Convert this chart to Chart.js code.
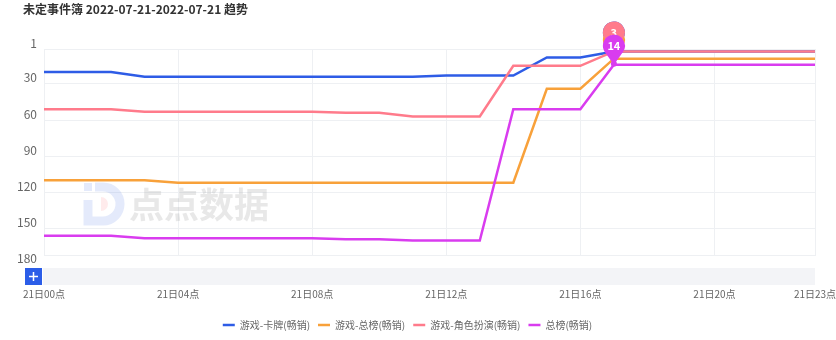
<!DOCTYPE html>
<html>
<head>
<meta charset="utf-8">
<script src="https://cdn.jsdelivr.net/npm/chart.js@4.4.1/dist/chart.umd.min.js"></script>
<style>
  html, body { margin: 0; padding: 0; background: #fff; }
  #wrap { width: 836px; height: 340px; position: relative; }
</style>
</head>
<body>
<div id="wrap"><canvas id="trendChart"></canvas></div>
<script>
// 小时 (21日 00点 - 23点)
const hours = [0, 1, 2, 3, 4, 5, 6, 7, 8, 9, 10, 11, 12, 13, 14, 15, 16, 17, 18, 19, 20, 21, 22, 23];
const xTickHours = [0, 4, 8, 12, 16, 20, 23];
const yTickValues = [1, 30, 60, 90, 120, 150, 180];

const seriesNames = ['游戏-卡牌(畅销)', '游戏-总榜(畅销)', '游戏-角色扮演(畅销)', '总榜(畅销)'];
const seriesColors = ['#2e5ce6', '#f8a13a', '#ff7b8b', '#d93cef'];

// 排名
const cardRank    = [20, 20, 20, 24, 24, 24, 24, 24, 24, 24, 24, 24, 23, 23, 23, 8, 8, 3, 3, 3, 3, 3, 3, 3];
const gameRank    = [110, 110, 110, 110, 112, 112, 112, 112, 112, 112, 112, 112, 112, 112, 112, 34, 34, 9, 9, 9, 9, 9, 9, 9];
const rpgRank     = [51, 51, 51, 53, 53, 53, 53, 53, 53, 54, 54, 57, 57, 57, 15, 15, 15, 3, 3, 3, 3, 3, 3, 3];
const overallRank = [156, 156, 156, 158, 158, 158, 158, 158, 158, 159, 159, 160, 160, 160, 51, 51, 51, 14, 14, 14, 14, 14, 14, 14];

const markIndex = 17;
const fontFamily = '"Noto Sans CJK SC", "Noto Sans", sans-serif';

function toPoints(arr) {
    return hours.map((h, i) => ({ x: h, y: arr[i] }));
}

// 标题
const titlePlugin = {
    id: 'titleText',
    afterDraw(chart) {
        const ctx = chart.ctx;
        ctx.save();
        ctx.font = 'bold 12px ' + fontFamily;
        ctx.fillStyle = '#333';
        ctx.textBaseline = 'middle';
        ctx.fillText('未定事件簿 2022-07-21-2022-07-21 趋势', 23, 9);
        ctx.restore();
    }
};

// 水印 + 底部缩放条 + 多余的y轴标签
const backdropPlugin = {
    id: 'backdrop',
    beforeDatasetsDraw(chart) {
        const ctx = chart.ctx;
        ctx.save();
        // logo
        ctx.lineWidth = 9;
        ctx.strokeStyle = 'rgba(120,150,235,0.2)';
        ctx.beginPath();
        ctx.moveTo(95, 187);
        ctx.lineTo(103, 187);
        ctx.arc(103, 204, 17, -Math.PI / 2, Math.PI / 2);
        ctx.lineTo(88, 221);
        ctx.lineTo(88, 200);
        ctx.stroke();
        ctx.fillStyle = 'rgba(255,120,130,0.15)';
        ctx.beginPath();
        ctx.arc(101, 204, 7, -Math.PI / 2, Math.PI / 2);
        ctx.fill();
        ctx.fillStyle = 'rgba(120,150,235,0.2)';
        ctx.fillRect(84, 183, 8, 8);
        // 文字
        ctx.font = 'bold 35px ' + fontFamily;
        ctx.fillStyle = 'rgba(170,170,170,0.27)';
        ctx.textBaseline = 'middle';
        ctx.fillText('点点数据', 129, 205);
        ctx.restore();
    },
    afterDraw(chart) {
        const ctx = chart.ctx;
        const area = chart.chartArea;
        const y = chart.scales.y;
        ctx.save();
        // 额外y轴标签
        ctx.font = '12px ' + fontFamily;
        ctx.fillStyle = '#666';
        ctx.textAlign = 'right';
        ctx.textBaseline = 'middle';
        yTickValues.filter(v => v > y.max).forEach(v => {
            ctx.fillText(String(v), area.left - 7, y.getPixelForValue(v) - 6);
        });
        // 缩放条
        ctx.fillStyle = '#f3f4f7';
        ctx.fillRect(area.left - 1, 268, area.right - area.left + 1, 17);
        ctx.fillStyle = '#2b5de8';
        ctx.fillRect(25, 268, 17, 17);
        ctx.strokeStyle = '#fff';
        ctx.lineWidth = 1.5;
        ctx.beginPath();
        ctx.moveTo(29, 276.5); ctx.lineTo(38, 276.5);
        ctx.moveTo(33.5, 272); ctx.lineTo(33.5, 281);
        ctx.stroke();
        ctx.restore();
    }
};

// 标记气泡
const pinPlugin = {
    id: 'pins',
    afterDatasetsDraw(chart) {
        const ctx = chart.ctx;
        chart.data.datasets.forEach((ds, i) => {
            const pt = chart.getDatasetMeta(i).data[markIndex];
            if (!pt) return;
            const r = 11;
            const cx = pt.x, cy = pt.y - 19;
            ctx.save();
            ctx.fillStyle = ds.borderColor;
            ctx.beginPath();
            ctx.arc(cx, cy, r, Math.PI * 0.8, Math.PI * 0.2);
            ctx.lineTo(cx, pt.y);
            ctx.closePath();
            ctx.fill();
            ctx.beginPath();
            ctx.arc(cx, pt.y - 1, 3, 0, Math.PI * 2);
            ctx.fill();
            ctx.font = 'bold 11px ' + fontFamily;
            ctx.fillStyle = '#fff';
            ctx.textAlign = 'center';
            ctx.textBaseline = 'middle';
            ctx.fillText(String(ds.data[markIndex].y), cx, cy);
            ctx.restore();
        });
    }
};

const rankSeries = [cardRank, gameRank, rpgRank, overallRank];

const ctx = document.getElementById('trendChart').getContext('2d');
const myChart = new Chart(ctx, {
    type: 'line',
    data: {
        datasets: rankSeries.map((arr, i) => ({
            label: seriesNames[i],
            data: toPoints(arr),
            borderColor: seriesColors[i],
            backgroundColor: seriesColors[i],
            borderWidth: 2.5,
            pointRadius: 0,
            tension: 0,
            fill: false,
            order: rankSeries.length - i
        }))
    },
    options: {
        responsive: true,
        maintainAspectRatio: false,
        animation: false,
        devicePixelRatio: 1,
        layout: { padding: { top: 49, left: 0, right: 21, bottom: 0 } },
        plugins: {
            title: { display: false },
            tooltip: { enabled: false },
            legend: {
                position: 'bottom',
                labels: {
                    usePointStyle: true,
                    pointStyle: 'line',
                    pointStyleWidth: 12,
                    color: '#666',
                    font: { size: 10, family: fontFamily },
                    padding: 8,
                    sort: (a, b) => a.datasetIndex - b.datasetIndex
                }
            }
        },
        scales: {
            x: {
                type: 'linear',
                min: 0,
                max: 23,
                afterBuildTicks: (scale) => { scale.ticks = xTickHours.map(v => ({ value: v })); },
                afterFit: (scale) => {
                    scale.height = 57;
                    scale.paddingLeft = 0;
                    scale.paddingRight = 0;
                },
                grid: { color: '#eef0f3', drawTicks: false },
                border: { color: '#eef0f3' },
                ticks: {
                    autoSkip: false,
                    maxRotation: 0,
                    padding: 33,
                    color: '#666',
                    font: { size: 10, family: fontFamily },
                    callback: (v) => '21日' + String(v).padStart(2, '0') + '点'
                }
            },
            y: {
                reverse: true,
                min: 1,
                max: 172,
                afterBuildTicks: (scale) => { scale.ticks = yTickValues.filter(v => v <= scale.max).map(v => ({ value: v })); },
                afterFit: (scale) => { scale.width = 44; },
                grid: { color: '#eef0f3', drawTicks: false },
                border: { color: '#eef0f3' },
                ticks: {
                    padding: 7,
                    labelOffset: -6,
                    color: '#666',
                    font: { size: 12, family: fontFamily }
                }
            }
        }
    },
    plugins: [titlePlugin, backdropPlugin, pinPlugin]
});
</script>
</body>
</html>
